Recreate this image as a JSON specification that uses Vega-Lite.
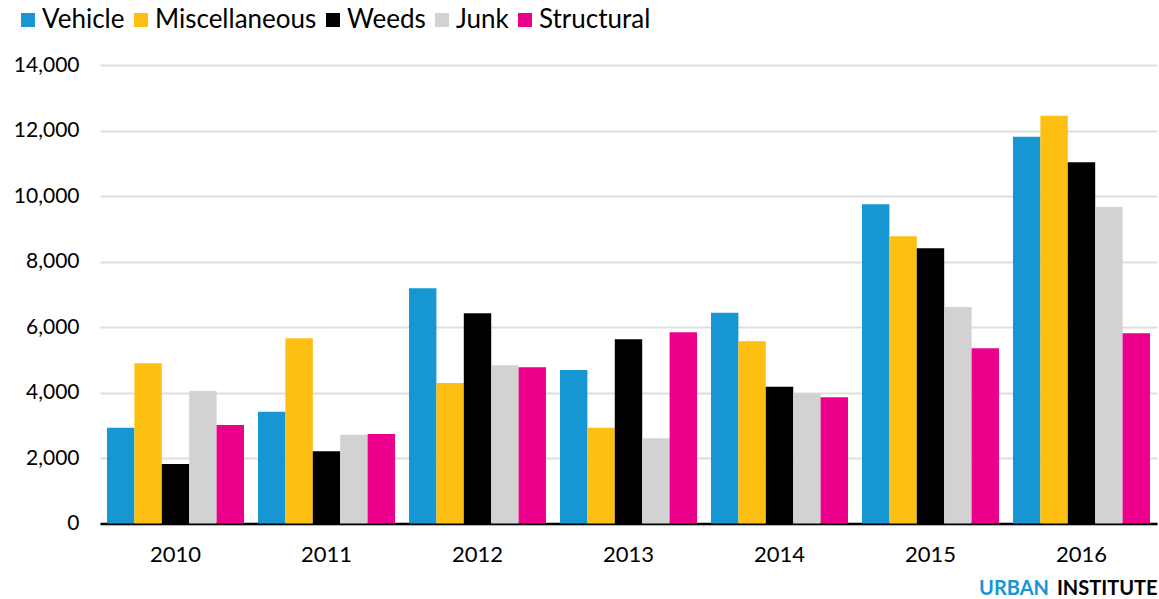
{
  "$schema": "https://vega.github.io/schema/vega-lite/v6.json",
  "autosize": "none",
  "width": 1057,
  "height": 458.5,
  "padding": {"left": 100, "top": 65, "right": 2, "bottom": 75.5},
  "background": "white",
  "title": {
    "text": "URBAN",
    "orient": "bottom",
    "anchor": "end",
    "color": "#1696d2",
    "font": "Lato",
    "fontSize": 20,
    "fontWeight": "bold",
    "dx": -108,
    "dy": -20,
    "offset": 0
  },
  "data": {
    "values": [
      {"year": "2010", "type": "Vehicle", "value": 2926},
      {"year": "2010", "type": "Miscellaneous", "value": 4891},
      {"year": "2010", "type": "Weeds", "value": 1817},
      {"year": "2010", "type": "Junk", "value": 4046},
      {"year": "2010", "type": "Structural", "value": 3008},
      {"year": "2011", "type": "Vehicle", "value": 3415},
      {"year": "2011", "type": "Miscellaneous", "value": 5654},
      {"year": "2011", "type": "Weeds", "value": 2204},
      {"year": "2011", "type": "Junk", "value": 2712},
      {"year": "2011", "type": "Structural", "value": 2733},
      {"year": "2012", "type": "Vehicle", "value": 7181},
      {"year": "2012", "type": "Miscellaneous", "value": 4290},
      {"year": "2012", "type": "Weeds", "value": 6418},
      {"year": "2012", "type": "Junk", "value": 4830},
      {"year": "2012", "type": "Structural", "value": 4769},
      {"year": "2013", "type": "Vehicle", "value": 4687},
      {"year": "2013", "type": "Miscellaneous", "value": 2926},
      {"year": "2013", "type": "Weeds", "value": 5624},
      {"year": "2013", "type": "Junk", "value": 2601},
      {"year": "2013", "type": "Structural", "value": 5837},
      {"year": "2014", "type": "Vehicle", "value": 6437},
      {"year": "2014", "type": "Miscellaneous", "value": 5563},
      {"year": "2014", "type": "Weeds", "value": 4178},
      {"year": "2014", "type": "Junk", "value": 3975},
      {"year": "2014", "type": "Structural", "value": 3853},
      {"year": "2015", "type": "Vehicle", "value": 9747},
      {"year": "2015", "type": "Miscellaneous", "value": 8769},
      {"year": "2015", "type": "Weeds", "value": 8403},
      {"year": "2015", "type": "Junk", "value": 6611},
      {"year": "2015", "type": "Structural", "value": 5349},
      {"year": "2016", "type": "Vehicle", "value": 11811},
      {"year": "2016", "type": "Miscellaneous", "value": 12452},
      {"year": "2016", "type": "Weeds", "value": 11029},
      {"year": "2016", "type": "Junk", "value": 9664},
      {"year": "2016", "type": "Structural", "value": 5807}
    ]
  },
  "mark": {"type": "bar"},
  "encoding": {
    "x": {
      "field": "year",
      "type": "nominal",
      "scale": {"paddingInner": 0.0927, "paddingOuter": 0.0464},
      "axis": {
        "title": "INSTITUTE",
        "titleAnchor": "end",
        "titleFont": "Lato",
        "titleFontSize": 20,
        "titleFontWeight": "bold",
        "titleColor": "#000000",
        "titlePadding": 13,
        "labelAngle": 0,
        "labelFont": "Lato",
        "labelFontSize": 22,
        "labelColor": "#000000",
        "labelPadding": 21,
        "ticks": false,
        "domainColor": "#000000",
        "domainWidth": 2.5,
        "grid": false
      }
    },
    "xOffset": {
      "field": "type",
      "type": "nominal",
      "sort": ["Vehicle", "Miscellaneous", "Weeds", "Junk", "Structural"],
      "scale": {"paddingInner": 0, "paddingOuter": 0}
    },
    "y": {
      "field": "value",
      "type": "quantitative",
      "scale": {"domain": [0, 14000], "nice": false},
      "axis": {
        "title": null,
        "values": [0, 2000, 4000, 6000, 8000, 10000, 12000, 14000],
        "format": ",d",
        "labelFont": "Lato",
        "labelFontSize": 21,
        "labelColor": "#000000",
        "labelPadding": 21,
        "ticks": false,
        "domain": false,
        "gridColor": "#dedede",
        "gridWidth": 2
      }
    },
    "color": {
      "field": "type",
      "type": "nominal",
      "sort": ["Vehicle", "Miscellaneous", "Weeds", "Junk", "Structural"],
      "scale": {
        "domain": ["Vehicle", "Miscellaneous", "Weeds", "Junk", "Structural"],
        "range": ["#1696d2", "#fdbf11", "#000000", "#d2d2d2", "#ec008b"]
      },
      "legend": {
        "title": null,
        "orient": "none",
        "direction": "horizontal",
        "legendX": -85,
        "legendY": -58,
        "symbolType": "square",
        "symbolSize": 196,
        "symbolStrokeWidth": 0,
        "labelFont": "Lato",
        "labelFontSize": 26,
        "labelColor": "#000000",
        "labelLimit": 400,
        "labelOffset": 1,
        "columnPadding": 3
      }
    }
  },
  "config": {
    "view": {"stroke": null},
    "axis": {"gridCap": "butt"}
  }
}
